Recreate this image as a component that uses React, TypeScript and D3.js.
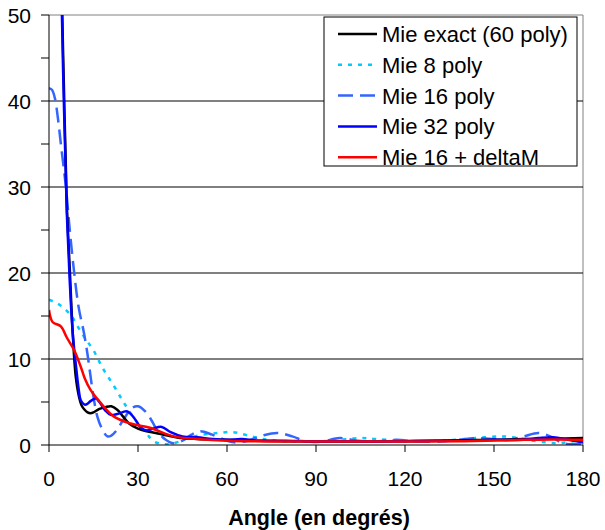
import React from "react";
import * as d3 from "d3";

const xTicks = [0, 30, 60, 90, 120, 150, 180];
const yTicks = [0, 10, 20, 30, 40, 50];
const yMinorTicks = [0, 5, 10, 15, 20, 25, 30, 35, 40, 45, 50];
const seriesNames = ["Mie exact (60 poly)", "Mie 8 poly", "Mie 16 poly", "Mie 32 poly", "Mie 16 + deltaM"];

const exactAngles = [0, 2, 4, 5, 6, 7, 8, 9, 10, 11, 12, 13, 14, 15, 17, 19, 21, 23, 25, 27, 30, 33, 36, 40, 45, 50, 60, 70, 80, 90, 100, 110, 120, 130, 140, 150, 160, 170, 180];
const exactValues = [200, 110, 58, 42, 28, 20.5, 13, 8, 5.8, 4.6, 4.1, 3.8, 3.7, 3.8, 4.2, 4.4, 4.5, 4.1, 3.3, 2.5, 1.9, 1.6, 1.4, 1.1, 0.8, 0.7, 0.6, 0.5, 0.45, 0.4, 0.4, 0.4, 0.45, 0.5, 0.55, 0.6, 0.7, 0.75, 0.8];

const poly8Angles = [0, 2, 4, 6, 8, 10, 12, 15, 18, 22, 26, 30, 33, 35, 37, 40, 43, 47, 52, 57, 62, 67, 72, 80, 90, 98, 105, 110, 118, 125, 133, 140, 147, 153, 158, 163, 168, 172, 176, 180];
const poly8Values = [16.9, 16.6, 16.2, 15.6, 14.8, 13.6, 12.5, 11.0, 9.0, 6.8, 4.5, 2.5, 1.3, 0.5, 0.2, 0.1, 0.3, 0.8, 1.2, 1.4, 1.5, 1.1, 0.7, 0.4, 0.4, 0.6, 0.8, 0.7, 0.5, 0.4, 0.5, 0.7, 0.9, 1.0, 0.8, 0.5, 0.3, 0.2, 0.4, 0.6];

const poly16Angles = [0, 1, 2, 3, 4, 5.7, 7, 8.5, 10, 11.8, 13, 14, 15, 16.3, 18, 19.7, 21, 23, 25, 28, 30, 33, 35, 36.4, 39, 42, 45, 48, 51, 55, 60, 63, 67, 72, 77, 82, 87, 92, 98, 104, 110, 117, 124, 132, 138, 144, 150, 155, 160, 165, 169, 172, 175, 178, 180];
const poly16Values = [41.5, 41.3, 40.3, 38, 35, 30, 25, 20, 16, 13, 10.5, 8, 5.6, 3.3, 1.8, 1.0, 1.1, 1.8, 2.9, 4.3, 4.5, 3.7, 2.6, 1.7, 0.7, 0.2, 0.5, 1.2, 1.6, 1.2, 0.5, 0.3, 0.5, 1.1, 1.4, 1.0, 0.4, 0.4, 0.8, 0.5, 0.4, 0.6, 0.4, 0.4, 0.6, 0.8, 0.7, 0.6, 1.0, 1.4, 1.0, 0.4, 0.1, 0.1, 0.2];

const poly32Angles = [0, 2, 4, 5, 6, 7, 8, 9, 10, 10.7, 12, 13, 14, 15.8, 17, 19, 20.8, 23, 26.4, 29, 31, 33, 35, 38, 41, 45, 50, 55, 60, 65, 70, 80, 90, 100, 110, 120, 130, 140, 150, 160, 165, 170, 175, 180];
const poly32Values = [200, 110, 56, 40, 27, 19, 13, 9.5, 6.5, 5.2, 4.7, 4.8, 5.1, 5.4, 5.0, 4.0, 3.5, 3.6, 3.9, 3.0, 2.0, 1.7, 1.9, 2.1, 1.5, 1.0, 0.9, 0.7, 0.6, 0.7, 0.5, 0.5, 0.4, 0.45, 0.4, 0.45, 0.5, 0.5, 0.6, 0.6, 0.8, 0.9, 0.6, 0.3];

const deltaMAngles = [0, 1.2, 4, 6, 8.5, 10.7, 12, 14, 17.4, 21.9, 27.5, 34, 42, 50, 60, 80, 100, 120, 140, 160, 170, 180];
const deltaMValues = [15.7, 14.3, 13.8, 12.5, 11, 9.1, 7.8, 6.4, 4.9, 3.3, 2.5, 2.0, 1.0, 0.7, 0.5, 0.4, 0.4, 0.4, 0.45, 0.6, 0.65, 0.6];

const W = 605;
const H = 530;
const L = 49, R = 583, T = 15, B = 445;
const FONT = "'Liberation Sans', Arial, sans-serif";

export default function App() {
  const x = d3.scaleLinear().domain([0, 180]).range([L, R]);
  const y = d3.scaleLinear().domain([0, 50]).range([B, T]);
  const line = d3
    .line<[number, number]>()
    .x((d) => x(d[0]))
    .y((d) => y(d[1]))
    .curve(d3.curveCatmullRom.alpha(0.5));

  const zip = (a: number[], v: number[]) => a.map((ang, i) => [ang, v[i]] as [number, number]);

  const series = [
    { name: seriesNames[0], data: zip(exactAngles, exactValues), color: "#000000", width: 2.5, dash: "" },
    { name: seriesNames[1], data: zip(poly8Angles, poly8Values), color: "#00CCFF", width: 2.5, dash: "4,6" },
    { name: seriesNames[2], data: zip(poly16Angles, poly16Values), color: "#3366FF", width: 2.5, dash: "15,7" },
    { name: seriesNames[3], data: zip(poly32Angles, poly32Values), color: "#0000FF", width: 2.5, dash: "" },
    { name: seriesNames[4], data: zip(deltaMAngles, deltaMValues), color: "#FF0000", width: 2.5, dash: "" },
  ];
  const drawOrder = [1, 2, 0, 3, 4];

  const legX = 324, legY = 17, legW = 253, legH = 149;
  const rowH = 30.8;

  return (
    <svg width={W} height={H} style={{ position: "absolute", left: 0, top: 0, background: "#fff" }}>
      <defs>
        <clipPath id="plotClip">
          <rect x={L} y={T} width={R - L} height={B - T} />
        </clipPath>
      </defs>
      <rect x={0} y={0} width={W} height={H} fill="#fff" />
      <line x1={L} x2={R} y1={T} y2={T} stroke="#808080" strokeWidth={1} />
      <line x1={R} x2={R} y1={T} y2={B} stroke="#808080" strokeWidth={1} />
      {yTicks.filter((t) => t > 0 && t < 50).map((t) => (
        <line key={"g" + t} x1={L} x2={R} y1={y(t)} y2={y(t)} stroke="#000" strokeWidth={1} />
      ))}
      <g clipPath="url(#plotClip)">
        {drawOrder.map((i) => {
          const s = series[i];
          return (
            <path
              key={s.name}
              d={line(s.data) || ""}
              fill="none"
              stroke={s.color}
              strokeWidth={s.width}
              strokeDasharray={s.dash || undefined}
              strokeLinejoin="round"
            />
          );
        })}
      </g>
      <line x1={L} x2={L} y1={T} y2={B} stroke="#000" strokeWidth={1} />
      <line x1={L} x2={R} y1={B} y2={B} stroke="#000" strokeWidth={1} />
      {yMinorTicks.map((t) => (
        <line key={"yt" + t} x1={L - 8} x2={L} y1={y(t)} y2={y(t)} stroke="#000" strokeWidth={1} />
      ))}
      {xTicks.map((t) => (
        <line key={"xt" + t} x1={x(t)} x2={x(t)} y1={B} y2={B + 7} stroke="#000" strokeWidth={1} />
      ))}
      {yTicks.map((t) => (
        <text key={"yl" + t} x={31} y={y(t)} dy="0.36em" textAnchor="end" fontFamily={FONT} fontSize={21} fill="#000">
          {t}
        </text>
      ))}
      {xTicks.map((t) => (
        <text key={"xl" + t} x={x(t)} y={478} dy="0.36em" textAnchor="middle" fontFamily={FONT} fontSize={21} fill="#000">
          {t}
        </text>
      ))}
      <text x={319} y={525} textAnchor="middle" fontFamily={FONT} fontSize={21.5} fontWeight="bold" fill="#000">
        Angle (en degrés)
      </text>
      <rect x={legX} y={legY} width={legW} height={legH} fill="#fff" stroke="#000" strokeWidth={1} />
      {series.map((s, i) => {
        const cy = legY + 17 + i * rowH;
        return (
          <g key={"leg" + i}>
            <line x1={338} x2={377} y1={cy} y2={cy} stroke={s.color} strokeWidth={s.width} strokeDasharray={s.dash || undefined} />
            <text x={382} y={cy} dy="0.36em" fontFamily={FONT} fontSize={22} fill="#000">
              {s.name}
            </text>
          </g>
        );
      })}
    </svg>
  );
}
